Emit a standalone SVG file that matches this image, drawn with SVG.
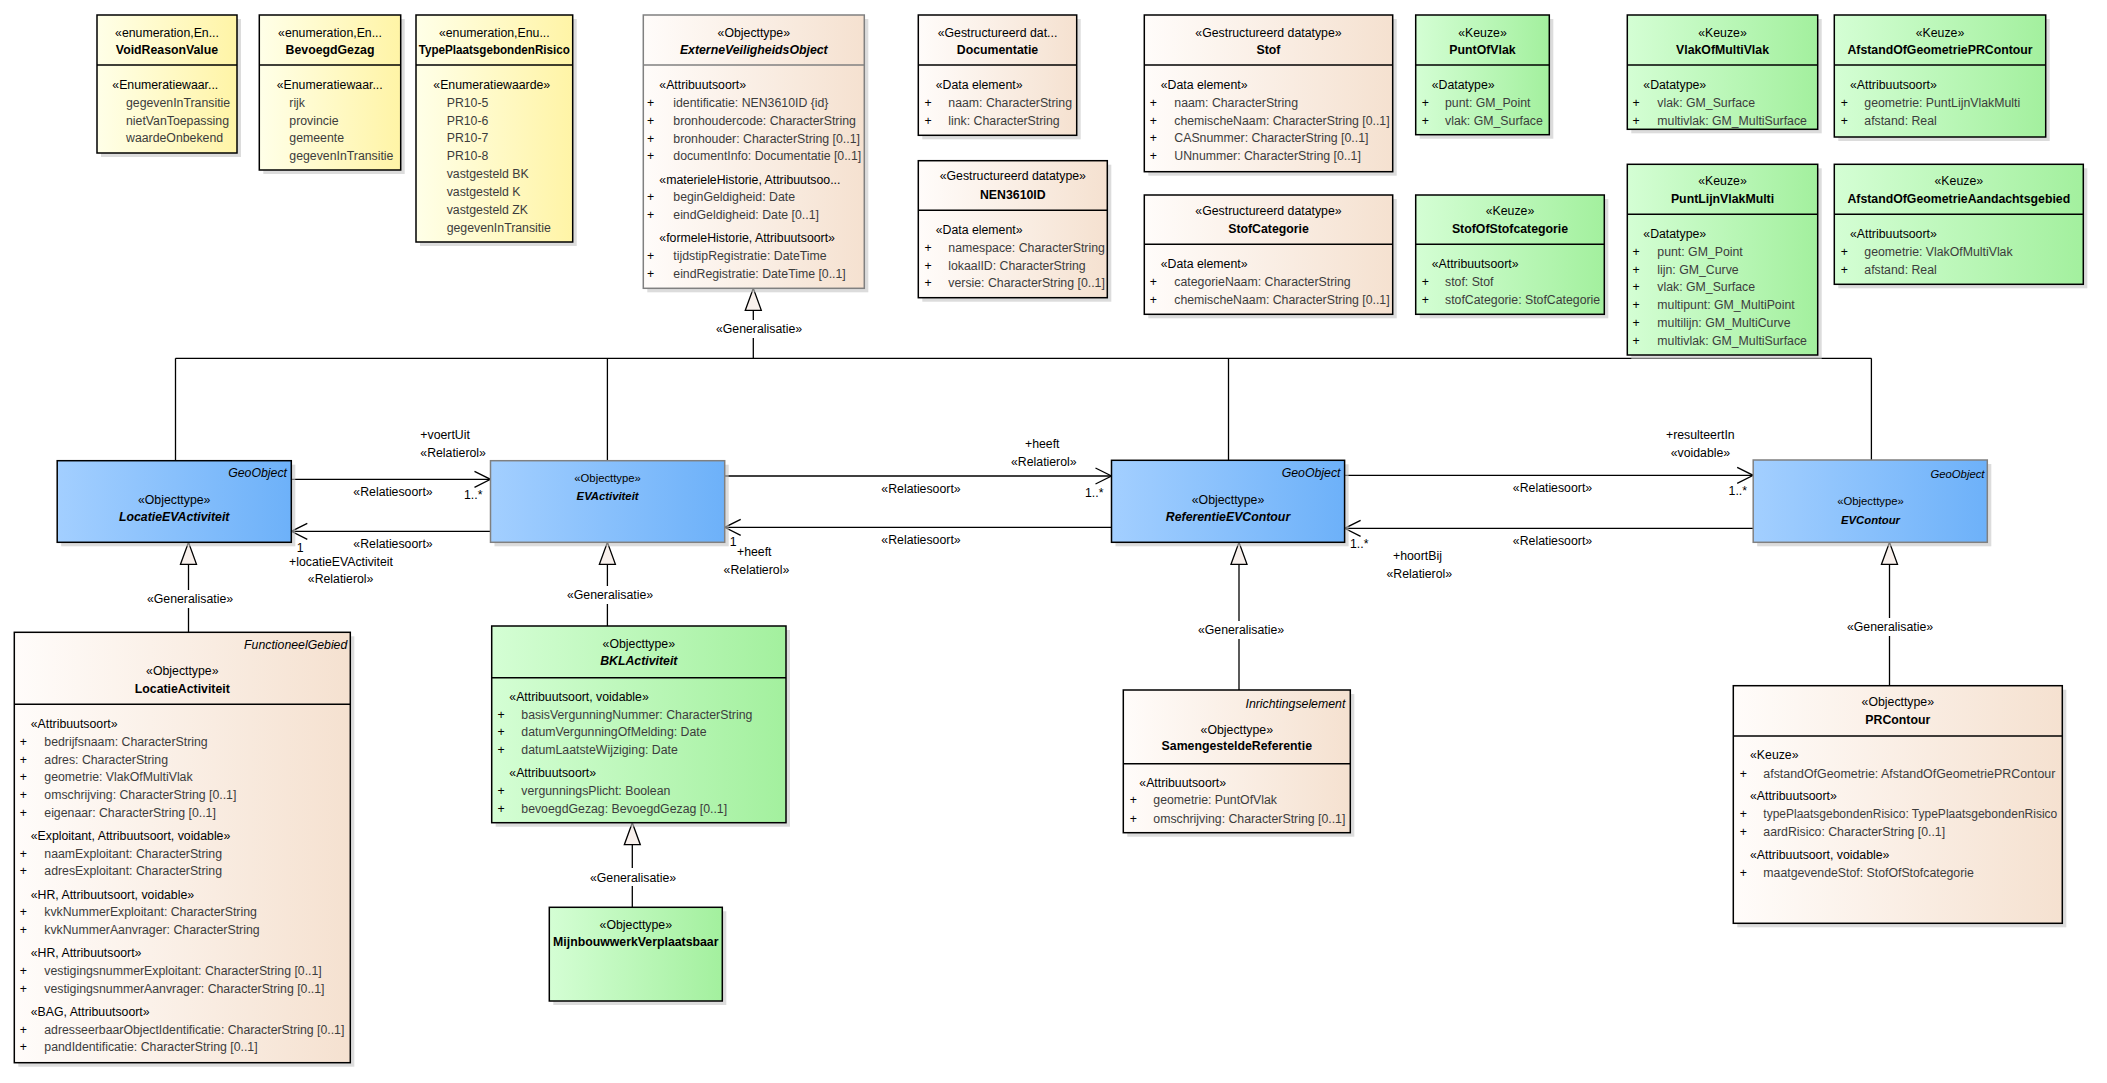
<svg xmlns="http://www.w3.org/2000/svg" width="2107" height="1083" viewBox="0 0 2107 1083">
<defs>
<linearGradient id="gPe" x1="0" y1="0" x2="1" y2="0"><stop offset="0" stop-color="#FFFCFA"/><stop offset="1" stop-color="#F5E1D0"/></linearGradient>
<linearGradient id="gGr" x1="0" y1="0" x2="1" y2="0"><stop offset="0" stop-color="#D4FED4"/><stop offset="1" stop-color="#A3F09E"/></linearGradient>
<linearGradient id="gYe" x1="0" y1="0" x2="1" y2="0"><stop offset="0" stop-color="#FFFFE8"/><stop offset="1" stop-color="#FFF4A6"/></linearGradient>
<linearGradient id="gBl" x1="0" y1="0" x2="1" y2="0"><stop offset="0" stop-color="#A3CFFF"/><stop offset="1" stop-color="#6DB1F9"/></linearGradient>
<marker id="open" markerUnits="userSpaceOnUse" markerWidth="20" markerHeight="20" viewBox="-2 -2 20 20" refX="16" refY="8" orient="auto"><path d="M0,0 L16,8 L0,16" fill="none" stroke="#000" stroke-width="1.3"/></marker>
<marker id="tri" markerUnits="userSpaceOnUse" markerWidth="26" markerHeight="20" viewBox="-2 -2 26 20" refX="22" refY="8" orient="auto"><path d="M0,0 L22,8 L0,16 Z" fill="#F8F0EC" stroke="#000" stroke-width="1.3"/></marker>
</defs>
<style>
.t{font-family:"Liberation Sans",Arial,sans-serif;font-size:12.3px;fill:#000}
.m{text-anchor:middle}
.e{text-anchor:end}
.b{font-weight:bold}
.i{font-style:italic}
.n{font-size:11.3px}
.a{fill:#3c3c3c}
.sh{fill:#c4c4c4;opacity:.6}
.pe{fill:url(#gPe);stroke:#000;stroke-width:1.5}
.gr{fill:url(#gGr);stroke:#000;stroke-width:1.5}
.ye{fill:url(#gYe);stroke:#000;stroke-width:1.5}
.bl{fill:url(#gBl);stroke:#000;stroke-width:1.5}
.dv{stroke:#000;stroke-width:1.5}
.gb{stroke:#808080}
.ln{stroke:#000;stroke-width:1.3;fill:none}
.as{marker-end:url(#open)}
.ge{marker-end:url(#tri)}
</style>
<rect width="2107" height="1083" fill="#fff"/>

<g id="connectors">
<line class="ln" x1="175.5" y1="358.3" x2="1871.4" y2="358.3"/>
<line class="ln" x1="175.5" y1="460.7" x2="175.5" y2="358.3"/>
<line class="ln" x1="607.4" y1="460.7" x2="607.4" y2="358.3"/>
<line class="ln" x1="1228.5" y1="460.3" x2="1228.5" y2="358.3"/>
<line class="ln" x1="1871.4" y1="460" x2="1871.4" y2="358.3"/>
<line class="ln" x1="753.3" y1="358.3" x2="753.3" y2="338"/>
<line class="ln ge" x1="753.3" y1="320" x2="753.3" y2="288.3"/>
<text class="t m" x="759" y="333.3">«Generalisatie»</text>

<line class="ln as" x1="291.3" y1="479.3" x2="490.5" y2="479.3"/>
<text class="t" x="420.3" y="439.3">+voertUit</text>
<text class="t" x="420.3" y="457">«Relatierol»</text>
<text class="t m" x="393" y="496.3">«Relatiesoort»</text>
<text class="t" x="464" y="499.3">1..*</text>
<line class="ln as" x1="490.5" y1="531.3" x2="291.3" y2="531.3"/>
<text class="t m" x="393" y="547.6">«Relatiesoort»</text>
<text class="t" x="296.7" y="551.6">1</text>
<text class="t" x="289" y="566">+locatieEVActiviteit</text>
<text class="t" x="307.8" y="583.3">«Relatierol»</text>

<line class="ln as" x1="724.7" y1="476" x2="1111.5" y2="476"/>
<text class="t" x="1025" y="448.3">+heeft</text>
<text class="t" x="1011" y="466.3">«Relatierol»</text>
<text class="t m" x="921" y="493.3">«Relatiesoort»</text>
<text class="t" x="1085" y="496.6">1..*</text>
<line class="ln as" x1="1111.5" y1="527.3" x2="724.7" y2="527.3"/>
<text class="t m" x="921" y="544.3">«Relatiesoort»</text>
<text class="t" x="729.8" y="546">1</text>
<text class="t" x="737" y="556">+heeft</text>
<text class="t" x="723.6" y="574">«Relatierol»</text>

<line class="ln as" x1="1344.6" y1="475.3" x2="1753.2" y2="475.3"/>
<text class="t" x="1666" y="439.3">+resulteertIn</text>
<text class="t" x="1670.7" y="457">«voidable»</text>
<text class="t m" x="1552.5" y="492">«Relatiesoort»</text>
<text class="t" x="1728.6" y="495.3">1..*</text>
<line class="ln as" x1="1753.2" y1="528.3" x2="1344.6" y2="528.3"/>
<text class="t m" x="1552.5" y="545">«Relatiesoort»</text>
<text class="t" x="1350" y="547.6">1..*</text>
<text class="t" x="1393" y="560.3">+hoortBij</text>
<text class="t" x="1386.5" y="577.6">«Relatierol»</text>

<line class="ln" x1="188.5" y1="632.3" x2="188.5" y2="608"/>
<line class="ln ge" x1="188.5" y1="590" x2="188.5" y2="542.3"/>
<text class="t m" x="190" y="603.3">«Generalisatie»</text>
<line class="ln" x1="607.4" y1="626" x2="607.4" y2="604"/>
<line class="ln ge" x1="607.4" y1="586" x2="607.4" y2="542.3"/>
<text class="t m" x="610" y="599.3">«Generalisatie»</text>
<line class="ln" x1="1239" y1="690" x2="1239" y2="639"/>
<line class="ln ge" x1="1239" y1="621" x2="1239" y2="542.3"/>
<text class="t m" x="1241" y="634.3">«Generalisatie»</text>
<line class="ln" x1="1889.5" y1="685.7" x2="1889.5" y2="636"/>
<line class="ln ge" x1="1889.5" y1="618" x2="1889.5" y2="542.3"/>
<text class="t m" x="1890" y="631">«Generalisatie»</text>
<line class="ln" x1="632.3" y1="907.3" x2="632.3" y2="886"/>
<line class="ln ge" x1="632.3" y1="868" x2="632.3" y2="822.7"/>
<text class="t m" x="633" y="881.6">«Generalisatie»</text>
</g>

<g id="VoidReasonValue">
<rect class="sh" x="101" y="19" width="140" height="138"/>
<rect class="ye" x="97" y="15" width="140" height="138"/>
<line class="dv" x1="97" y1="65" x2="237" y2="65"/>
<text class="t m" x="167" y="36.5">«enumeration,En...</text>
<text class="t m b" x="167" y="53.8">VoidReasonValue</text>
<text class="t" x="112.3" y="88.8">«Enumeratiewaar...</text>
<text class="t a" x="126" y="107">gegevenInTransitie</text>
<text class="t a" x="126" y="124.6">nietVanToepassing</text>
<text class="t a" x="126" y="142.3">waardeOnbekend</text>
</g>

<g id="BevoegdGezag">
<rect class="sh" x="263.3" y="19" width="141.4" height="155"/>
<rect class="ye" x="259.3" y="15" width="141.4" height="155"/>
<line class="dv" x1="259.3" y1="65" x2="400.7" y2="65"/>
<text class="t m" x="330" y="36.5">«enumeration,En...</text>
<text class="t m b" x="330" y="53.8">BevoegdGezag</text>
<text class="t" x="276.7" y="88.8">«Enumeratiewaar...</text>
<text class="t a" x="289.3" y="107">rijk</text>
<text class="t a" x="289.3" y="124.6">provincie</text>
<text class="t a" x="289.3" y="142.3">gemeente</text>
<text class="t a" x="289.3" y="160">gegevenInTransitie</text>
</g>

<g id="TypePlaatsgebondenRisico">
<rect class="sh" x="420" y="19" width="156.7" height="227"/>
<rect class="ye" x="416" y="15" width="156.7" height="227"/>
<line class="dv" x1="416" y1="65" x2="572.7" y2="65"/>
<text class="t m" x="494.3" y="36.5">«enumeration,Enu...</text>
<text class="t m b" x="494.3" y="53.8" textLength="151" lengthAdjust="spacingAndGlyphs">TypePlaatsgebondenRisico</text>
<text class="t" x="433.3" y="88.8">«Enumeratiewaarde»</text>
<text class="t a" x="446.7" y="107">PR10-5</text>
<text class="t a" x="446.7" y="124.6">PR10-6</text>
<text class="t a" x="446.7" y="142.2">PR10-7</text>
<text class="t a" x="446.7" y="159.8">PR10-8</text>
<text class="t a" x="446.7" y="177.6">vastgesteld BK</text>
<text class="t a" x="446.7" y="195.6">vastgesteld K</text>
<text class="t a" x="446.7" y="213.8">vastgesteld ZK</text>
<text class="t a" x="446.7" y="232">gegevenInTransitie</text>
</g>

<g id="ExterneVeiligheidsObject">
<rect class="sh" x="647.3" y="19" width="221" height="273.3"/>
<rect class="pe gb" x="643.3" y="15" width="221" height="273.3"/>
<line class="dv gb" x1="643.3" y1="65" x2="864.3" y2="65"/>
<text class="t m" x="753.8" y="36.5">«Objecttype»</text>
<text class="t m b i" x="753.8" y="53.8">ExterneVeiligheidsObject</text>
<text class="t" x="659.3" y="88.8">«Attribuutsoort»</text>
<text class="t m" x="650.7" y="107">+</text><text class="t a" x="673.3" y="107">identificatie: NEN3610ID {id}</text>
<text class="t m" x="650.7" y="124.6">+</text><text class="t a" x="673.3" y="124.6">bronhoudercode: CharacterString</text>
<text class="t m" x="650.7" y="142.6">+</text><text class="t a" x="673.3" y="142.6">bronhouder: CharacterString [0..1]</text>
<text class="t m" x="650.7" y="160">+</text><text class="t a" x="673.3" y="160">documentInfo: Documentatie [0..1]</text>
<text class="t" x="659.3" y="184.3">«materieleHistorie, Attribuutsoo...</text>
<text class="t m" x="650.7" y="201.3">+</text><text class="t a" x="673.3" y="201.3">beginGeldigheid: Date</text>
<text class="t m" x="650.7" y="219">+</text><text class="t a" x="673.3" y="219">eindGeldigheid: Date [0..1]</text>
<text class="t" x="659.3" y="242">«formeleHistorie, Attribuutsoort»</text>
<text class="t m" x="650.7" y="260.3">+</text><text class="t a" x="673.3" y="260.3">tijdstipRegistratie: DateTime</text>
<text class="t m" x="650.7" y="277.6">+</text><text class="t a" x="673.3" y="277.6">eindRegistratie: DateTime [0..1]</text>
</g>

<g id="Documentatie">
<rect class="sh" x="922.3" y="19" width="158.4" height="120.3"/>
<rect class="pe" x="918.3" y="15" width="158.4" height="120.3"/>
<line class="dv" x1="918.3" y1="65" x2="1076.7" y2="65"/>
<text class="t m" x="997.5" y="36.5">«Gestructureerd dat...</text>
<text class="t m b" x="997.5" y="53.8">Documentatie</text>
<text class="t" x="935.7" y="88.8">«Data element»</text>
<text class="t m" x="928" y="107">+</text><text class="t a" x="948.3" y="107">naam: CharacterString</text>
<text class="t m" x="928" y="124.6">+</text><text class="t a" x="948.3" y="124.6">link: CharacterString</text>
</g>

<g id="NEN3610ID">
<rect class="sh" x="922.3" y="164.7" width="189" height="137"/>
<rect class="pe" x="918.3" y="160.7" width="189" height="137"/>
<line class="dv" x1="918.3" y1="210.3" x2="1107.3" y2="210.3"/>
<text class="t m" x="1012.8" y="180.3">«Gestructureerd datatype»</text>
<text class="t m b" x="1012.8" y="198.6">NEN3610ID</text>
<text class="t" x="935.7" y="233.6">«Data element»</text>
<text class="t m" x="928" y="252">+</text><text class="t a" x="948.3" y="252">namespace: CharacterString</text>
<text class="t m" x="928" y="269.6">+</text><text class="t a" x="948.3" y="269.6">lokaalID: CharacterString</text>
<text class="t m" x="928" y="287">+</text><text class="t a" x="948.3" y="287">versie: CharacterString [0..1]</text>
</g>

<g id="Stof">
<rect class="sh" x="1148.3" y="19" width="248.4" height="156.7"/>
<rect class="pe" x="1144.3" y="15" width="248.4" height="156.7"/>
<line class="dv" x1="1144.3" y1="65" x2="1392.7" y2="65"/>
<text class="t m" x="1268.5" y="36.5">«Gestructureerd datatype»</text>
<text class="t m b" x="1268.5" y="53.8">Stof</text>
<text class="t" x="1160.7" y="88.8">«Data element»</text>
<text class="t m" x="1153.3" y="107">+</text><text class="t a" x="1174.3" y="107">naam: CharacterString</text>
<text class="t m" x="1153.3" y="124.6">+</text><text class="t a" x="1174.3" y="124.6">chemischeNaam: CharacterString [0..1]</text>
<text class="t m" x="1153.3" y="142.3">+</text><text class="t a" x="1174.3" y="142.3">CASnummer: CharacterString [0..1]</text>
<text class="t m" x="1153.3" y="160">+</text><text class="t a" x="1174.3" y="160">UNnummer: CharacterString [0..1]</text>
</g>

<g id="StofCategorie">
<rect class="sh" x="1148.3" y="199" width="248.4" height="119.3"/>
<rect class="pe" x="1144.3" y="195" width="248.4" height="119.3"/>
<line class="dv" x1="1144.3" y1="244.3" x2="1392.7" y2="244.3"/>
<text class="t m" x="1268.5" y="214.6">«Gestructureerd datatype»</text>
<text class="t m b" x="1268.5" y="232.6">StofCategorie</text>
<text class="t" x="1160.7" y="267.6">«Data element»</text>
<text class="t m" x="1153.3" y="286">+</text><text class="t a" x="1174.3" y="286">categorieNaam: CharacterString</text>
<text class="t m" x="1153.3" y="303.6">+</text><text class="t a" x="1174.3" y="303.6">chemischeNaam: CharacterString [0..1]</text>
</g>

<g id="PuntOfVlak">
<rect class="sh" x="1419.7" y="19" width="133.6" height="119.7"/>
<rect class="gr" x="1415.7" y="15" width="133.6" height="119.7"/>
<line class="dv" x1="1415.7" y1="65" x2="1549.3" y2="65"/>
<text class="t m" x="1482.5" y="36.5">«Keuze»</text>
<text class="t m b" x="1482.5" y="53.8">PuntOfVlak</text>
<text class="t" x="1431.7" y="88.8">«Datatype»</text>
<text class="t m" x="1425.3" y="107">+</text><text class="t a" x="1445" y="107">punt: GM_Point</text>
<text class="t m" x="1425.3" y="124.6">+</text><text class="t a" x="1445" y="124.6">vlak: GM_Surface</text>
</g>

<g id="StofOfStofcategorie">
<rect class="sh" x="1419.7" y="199" width="188.6" height="119.3"/>
<rect class="gr" x="1415.7" y="195" width="188.6" height="119.3"/>
<line class="dv" x1="1415.7" y1="244.3" x2="1604.3" y2="244.3"/>
<text class="t m" x="1510" y="214.6">«Keuze»</text>
<text class="t m b" x="1510" y="232.6">StofOfStofcategorie</text>
<text class="t" x="1431.7" y="267.6">«Attribuutsoort»</text>
<text class="t m" x="1425.3" y="286">+</text><text class="t a" x="1445" y="286">stof: Stof</text>
<text class="t m" x="1425.3" y="303.6">+</text><text class="t a" x="1445" y="303.6">stofCategorie: StofCategorie</text>
</g>

<g id="VlakOfMultiVlak">
<rect class="sh" x="1631.3" y="19" width="190.4" height="114.3"/>
<rect class="gr" x="1627.3" y="15" width="190.4" height="114.3"/>
<line class="dv" x1="1627.3" y1="65" x2="1817.7" y2="65"/>
<text class="t m" x="1722.5" y="36.5">«Keuze»</text>
<text class="t m b" x="1722.5" y="53.8">VlakOfMultiVlak</text>
<text class="t" x="1643.3" y="88.8">«Datatype»</text>
<text class="t m" x="1636" y="107">+</text><text class="t a" x="1657.3" y="107">vlak: GM_Surface</text>
<text class="t m" x="1636" y="124.6">+</text><text class="t a" x="1657.3" y="124.6">multivlak: GM_MultiSurface</text>
</g>

<g id="AfstandOfGeometriePRContour">
<rect class="sh" x="1838.3" y="19" width="211.4" height="122"/>
<rect class="gr" x="1834.3" y="15" width="211.4" height="122"/>
<line class="dv" x1="1834.3" y1="65" x2="2045.7" y2="65"/>
<text class="t m" x="1940" y="36.5">«Keuze»</text>
<text class="t m b" x="1940" y="53.8">AfstandOfGeometriePRContour</text>
<text class="t" x="1850" y="88.8">«Attribuutsoort»</text>
<text class="t m" x="1844.3" y="107">+</text><text class="t a" x="1864.3" y="107">geometrie: PuntLijnVlakMulti</text>
<text class="t m" x="1844.3" y="124.6">+</text><text class="t a" x="1864.3" y="124.6">afstand: Real</text>
</g>

<g id="PuntLijnVlakMulti">
<rect class="sh" x="1631.3" y="168.3" width="190.4" height="190.7"/>
<rect class="gr" x="1627.3" y="164.3" width="190.4" height="190.7"/>
<line class="dv" x1="1627.3" y1="214.3" x2="1817.7" y2="214.3"/>
<text class="t m" x="1722.5" y="184.6">«Keuze»</text>
<text class="t m b" x="1722.5" y="202.6">PuntLijnVlakMulti</text>
<text class="t" x="1643.3" y="237.6">«Datatype»</text>
<text class="t m" x="1636" y="256">+</text><text class="t a" x="1657.3" y="256">punt: GM_Point</text>
<text class="t m" x="1636" y="273.6">+</text><text class="t a" x="1657.3" y="273.6">lijn: GM_Curve</text>
<text class="t m" x="1636" y="291">+</text><text class="t a" x="1657.3" y="291">vlak: GM_Surface</text>
<text class="t m" x="1636" y="309">+</text><text class="t a" x="1657.3" y="309">multipunt: GM_MultiPoint</text>
<text class="t m" x="1636" y="326.6">+</text><text class="t a" x="1657.3" y="326.6">multilijn: GM_MultiCurve</text>
<text class="t m" x="1636" y="344.6">+</text><text class="t a" x="1657.3" y="344.6">multivlak: GM_MultiSurface</text>
</g>

<g id="AfstandOfGeometrieAandachtsgebied">
<rect class="sh" x="1838.3" y="168.3" width="249" height="120"/>
<rect class="gr" x="1834.3" y="164.3" width="249" height="120"/>
<line class="dv" x1="1834.3" y1="214.3" x2="2083.3" y2="214.3"/>
<text class="t m" x="1958.8" y="184.6">«Keuze»</text>
<text class="t m b" x="1958.8" y="202.6">AfstandOfGeometrieAandachtsgebied</text>
<text class="t" x="1850" y="237.6">«Attribuutsoort»</text>
<text class="t m" x="1844.3" y="256">+</text><text class="t a" x="1864.3" y="256">geometrie: VlakOfMultiVlak</text>
<text class="t m" x="1844.3" y="273.6">+</text><text class="t a" x="1864.3" y="273.6">afstand: Real</text>
</g>

<g id="LocatieEVActiviteit">
<rect class="sh" x="61.2" y="464.7" width="234.1" height="81.6"/>
<rect class="bl" x="57.2" y="460.7" width="234.1" height="81.6"/>
<text class="t e i" x="287" y="477">GeoObject</text>
<text class="t m" x="174.2" y="503.6">«Objecttype»</text>
<text class="t m b i" x="174.2" y="521">LocatieEVActiviteit</text>
</g>

<g id="EVActiviteit">
<rect class="sh" x="494.5" y="464.7" width="234.2" height="81.6"/>
<rect class="bl gb" x="490.5" y="460.7" width="234.2" height="81.6"/>
<text class="t m n" x="607.6" y="481.6">«Objecttype»</text>
<text class="t m b i n" x="607.6" y="500.3">EVActiviteit</text>
</g>

<g id="ReferentieEVContour">
<rect class="sh" x="1115.5" y="464.3" width="233.1" height="82"/>
<rect class="bl" x="1111.5" y="460.3" width="233.1" height="82"/>
<text class="t e i" x="1340.5" y="477">GeoObject</text>
<text class="t m" x="1228" y="503.6">«Objecttype»</text>
<text class="t m b i" x="1228" y="521">ReferentieEVContour</text>
</g>

<g id="EVContour">
<rect class="sh" x="1757.2" y="464" width="234.1" height="82.3"/>
<rect class="bl gb" x="1753.2" y="460" width="234.1" height="82.3"/>
<text class="t e i n" x="1984.5" y="477.6">GeoObject</text>
<text class="t m n" x="1870.5" y="505.3">«Objecttype»</text>
<text class="t m b i n" x="1870.5" y="523.6">EVContour</text>
</g>

<g id="LocatieActiviteit">
<rect class="sh" x="18.3" y="636.3" width="336" height="430.4"/>
<rect class="pe" x="14.3" y="632.3" width="336" height="430.4"/>
<line class="dv" x1="14.3" y1="704.3" x2="350.3" y2="704.3"/>
<text class="t e i" x="347.3" y="648.6">FunctioneelGebied</text>
<text class="t m" x="182.3" y="675">«Objecttype»</text>
<text class="t m b" x="182.3" y="692.6">LocatieActiviteit</text>
<text class="t" x="30.7" y="728">«Attribuutsoort»</text>
<text class="t m" x="23.3" y="746.3">+</text><text class="t a" x="44.3" y="746.3">bedrijfsnaam: CharacterString</text>
<text class="t m" x="23.3" y="764">+</text><text class="t a" x="44.3" y="764">adres: CharacterString</text>
<text class="t m" x="23.3" y="781">+</text><text class="t a" x="44.3" y="781">geometrie: VlakOfMultiVlak</text>
<text class="t m" x="23.3" y="799.3">+</text><text class="t a" x="44.3" y="799.3">omschrijving: CharacterString [0..1]</text>
<text class="t m" x="23.3" y="817">+</text><text class="t a" x="44.3" y="817">eigenaar: CharacterString [0..1]</text>
<text class="t" x="30.7" y="840">«Exploitant, Attribuutsoort, voidable»</text>
<text class="t m" x="23.3" y="857.6">+</text><text class="t a" x="44.3" y="857.6">naamExploitant: CharacterString</text>
<text class="t m" x="23.3" y="875">+</text><text class="t a" x="44.3" y="875">adresExploitant: CharacterString</text>
<text class="t" x="30.7" y="899">«HR, Attribuutsoort, voidable»</text>
<text class="t m" x="23.3" y="916">+</text><text class="t a" x="44.3" y="916">kvkNummerExploitant: CharacterString</text>
<text class="t m" x="23.3" y="934">+</text><text class="t a" x="44.3" y="934">kvkNummerAanvrager: CharacterString</text>
<text class="t" x="30.7" y="957">«HR, Attribuutsoort»</text>
<text class="t m" x="23.3" y="975">+</text><text class="t a" x="44.3" y="975">vestigingsnummerExploitant: CharacterString [0..1]</text>
<text class="t m" x="23.3" y="993">+</text><text class="t a" x="44.3" y="993">vestigingsnummerAanvrager: CharacterString [0..1]</text>
<text class="t" x="30.7" y="1016">«BAG, Attribuutsoort»</text>
<text class="t m" x="23.3" y="1034">+</text><text class="t a" x="44.3" y="1034" textLength="300" lengthAdjust="spacingAndGlyphs">adresseerbaarObjectIdentificatie: CharacterString [0..1]</text>
<text class="t m" x="23.3" y="1051">+</text><text class="t a" x="44.3" y="1051">pandIdentificatie: CharacterString [0..1]</text>
</g>

<g id="BKLActiviteit">
<rect class="sh" x="495.7" y="630" width="294.3" height="196.7"/>
<rect class="gr" x="491.7" y="626" width="294.3" height="196.7"/>
<line class="dv" x1="491.7" y1="677.7" x2="786" y2="677.7"/>
<text class="t m" x="638.8" y="647.6">«Objecttype»</text>
<text class="t m b i" x="638.8" y="665">BKLActiviteit</text>
<text class="t" x="509.3" y="701">«Attribuutsoort, voidable»</text>
<text class="t m" x="501" y="719.3">+</text><text class="t a" x="521.3" y="719.3">basisVergunningNummer: CharacterString</text>
<text class="t m" x="501" y="736">+</text><text class="t a" x="521.3" y="736">datumVergunningOfMelding: Date</text>
<text class="t m" x="501" y="754">+</text><text class="t a" x="521.3" y="754">datumLaatsteWijziging: Date</text>
<text class="t" x="509.3" y="777">«Attribuutsoort»</text>
<text class="t m" x="501" y="795.3">+</text><text class="t a" x="521.3" y="795.3">vergunningsPlicht: Boolean</text>
<text class="t m" x="501" y="812.6">+</text><text class="t a" x="521.3" y="812.6">bevoegdGezag: BevoegdGezag [0..1]</text>
</g>

<g id="MijnbouwwerkVerplaatsbaar">
<rect class="sh" x="553.3" y="911.3" width="173" height="93.7"/>
<rect class="gr" x="549.3" y="907.3" width="173" height="93.7"/>
<text class="t m" x="635.8" y="928.6">«Objecttype»</text>
<text class="t m b" x="635.8" y="946">MijnbouwwerkVerplaatsbaar</text>
</g>

<g id="SamengesteldeReferentie">
<rect class="sh" x="1127.3" y="694" width="227" height="142.7"/>
<rect class="pe" x="1123.3" y="690" width="227" height="142.7"/>
<line class="dv" x1="1123.3" y1="763.7" x2="1350.3" y2="763.7"/>
<text class="t e i" x="1345.3" y="708">Inrichtingselement</text>
<text class="t m" x="1236.8" y="734">«Objecttype»</text>
<text class="t m b" x="1236.8" y="750.3">SamengesteldeReferentie</text>
<text class="t" x="1139.3" y="786.6">«Attribuutsoort»</text>
<text class="t m" x="1133.3" y="804.3">+</text><text class="t a" x="1153.3" y="804.3">geometrie: PuntOfVlak</text>
<text class="t m" x="1133.3" y="822.6">+</text><text class="t a" x="1153.3" y="822.6">omschrijving: CharacterString [0..1]</text>
</g>

<g id="PRContour">
<rect class="sh" x="1737.3" y="689.7" width="329" height="237.6"/>
<rect class="pe" x="1733.3" y="685.7" width="329" height="237.6"/>
<line class="dv" x1="1733.3" y1="736" x2="2062.3" y2="736"/>
<text class="t m" x="1897.8" y="705.6">«Objecttype»</text>
<text class="t m b" x="1897.8" y="723.6">PRContour</text>
<text class="t" x="1750" y="759.3">«Keuze»</text>
<text class="t m" x="1743.3" y="777.6">+</text><text class="t a" x="1763.3" y="777.6" textLength="292" lengthAdjust="spacingAndGlyphs">afstandOfGeometrie: AfstandOfGeometriePRContour</text>
<text class="t" x="1750" y="800">«Attribuutsoort»</text>
<text class="t m" x="1743.3" y="818">+</text><text class="t a" x="1763.3" y="818" textLength="294" lengthAdjust="spacingAndGlyphs">typePlaatsgebondenRisico: TypePlaatsgebondenRisico</text>
<text class="t m" x="1743.3" y="836">+</text><text class="t a" x="1763.3" y="836">aardRisico: CharacterString [0..1]</text>
<text class="t" x="1750" y="859.3">«Attribuutsoort, voidable»</text>
<text class="t m" x="1743.3" y="876.6">+</text><text class="t a" x="1763.3" y="876.6">maatgevendeStof: StofOfStofcategorie</text>
</g>
</svg>
